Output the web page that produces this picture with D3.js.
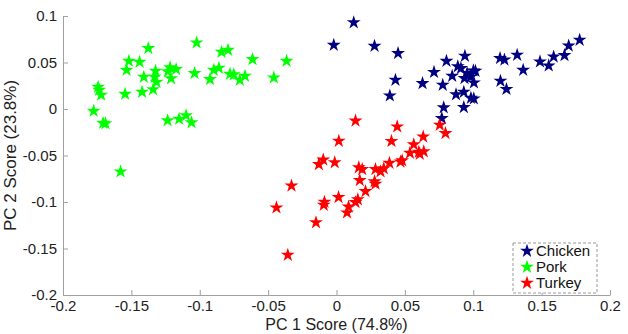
<!DOCTYPE html>
<html>
<head>
<meta charset="utf-8">
<script src="https://cdn.jsdelivr.net/npm/d3@7"></script>
<style>
  body { margin: 0; background: #fff; }
  svg { font-family: 'Liberation Sans', Arial, sans-serif; }
</style>
</head>
<body>
<svg width="628" height="334"></svg>
<script>
// PC scores, [pc1, pc2]
const chicken = [
  [-0.0020, 0.0688], [0.0126, 0.0930], [0.0278, 0.0677], [0.0450, 0.0599], [0.0431, 0.0312],
  [0.0390, 0.0143], [0.0629, 0.0276], [0.0713, 0.0396], [0.0804, 0.0516], [0.0939, 0.0570],
  [0.0887, 0.0457], [0.0910, 0.0438], [0.0846, 0.0355], [0.0777, 0.0258], [0.0874, 0.0156],
  [0.0931, 0.0183], [0.0936, 0.0330], [0.0980, 0.0344], [0.0955, 0.0384], [0.1001, 0.0412],
  [0.1016, 0.0409], [0.1005, 0.0283], [0.0983, 0.0118], [0.1004, 0.0111], [0.0931, 0.0018],
  [0.0784, 0.0016], [0.0770, -0.0100], [0.1196, 0.0545], [0.1228, 0.0530], [0.1321, 0.0581],
  [0.1199, 0.0301], [0.1243, 0.0213], [0.1365, 0.0419], [0.1488, 0.0509], [0.1552, 0.0466],
  [0.1588, 0.0562], [0.1667, 0.0577], [0.1698, 0.0680], [0.1778, 0.0742]
];
const pork = [
  [-0.1776, -0.0022], [-0.1743, 0.0237], [-0.1736, 0.0204], [-0.1721, 0.0151], [-0.1707, -0.0151],
  [-0.1689, -0.0156], [-0.1579, -0.0674], [-0.1546, 0.0161], [-0.1535, 0.0419], [-0.1518, 0.0516],
  [-0.1440, 0.0505], [-0.1422, 0.0183], [-0.1409, 0.0344], [-0.1376, 0.0653], [-0.1341, 0.0210],
  [-0.1330, 0.0344], [-0.1316, 0.0290], [-0.1323, 0.0409], [-0.1233, 0.0403], [-0.1217, 0.0446],
  [-0.1210, 0.0328], [-0.1173, 0.0427], [-0.1235, -0.0124], [-0.1151, -0.0108], [-0.1100, -0.0070],
  [-0.1060, -0.0145], [-0.1023, 0.0713], [-0.1038, 0.0384], [-0.0925, 0.0319], [-0.0897, 0.0419],
  [-0.0860, 0.0441], [-0.0841, 0.0613], [-0.0793, 0.0634], [-0.0779, 0.0376], [-0.0751, 0.0371],
  [-0.0707, 0.0312], [-0.0669, 0.0355], [-0.0614, 0.0534], [-0.0458, 0.0337], [-0.0365, 0.0516]
];
const turkey = [
  [0.0139, -0.0127], [0.0017, -0.0344], [0.0402, -0.0346], [0.0444, -0.0190], [0.0634, -0.0298],
  [0.0755, -0.0172], [0.0797, -0.0261], [0.0565, -0.0382], [0.0537, -0.0473], [0.0602, -0.0462],
  [0.0638, -0.0457], [0.0609, -0.0484], [0.0480, -0.0554], [0.0468, -0.0567], [0.0387, -0.0581],
  [0.0346, -0.0640], [0.0322, -0.0672], [0.0285, -0.0648], [0.0163, -0.0629], [0.0188, -0.0648],
  [-0.0129, -0.0595], [-0.0097, -0.0546], [-0.0013, -0.0575], [-0.0329, -0.0825], [-0.0439, -0.1061],
  [0.0170, -0.0767], [0.0278, -0.0780], [0.0285, -0.0806], [0.0212, -0.0885], [0.0015, -0.0949],
  [0.0156, -0.0973], [0.0139, -0.1003], [0.0088, -0.1051], [0.0077, -0.1115], [-0.0088, -0.1000],
  [-0.0093, -0.1032], [-0.0150, -0.1220], [-0.0356, -0.1570]
];
const groups = ['Chicken', 'Pork', 'Turkey'];
const colors = ['#000080', '#00ff00', '#ff0000'];
const xTicks = [-0.2, -0.15, -0.1, -0.05, 0, 0.05, 0.1, 0.15, 0.2];
const yTicks = [-0.2, -0.15, -0.1, -0.05, 0, 0.05, 0.1];

const margin = { left: 63, top: 16, right: 18, bottom: 39 };
const inner = { x: 628 - margin.left - margin.right, y: 334 - margin.top - margin.bottom };

const x = d3.scaleLinear().domain([-0.2, 0.2]).range([0, inner.x]);
const y = d3.scaleLinear().domain([-0.2, 0.1]).range([inner.y, 0]);

// plain hyphen minus like matlab
const fmt = function (d) { return String(d); };

const svg = d3.select('svg');
const g = svg.append('g')
  .attr('transform', 'translate(' + margin.left + ',' + margin.top + ')');

// axes, matlab style: ticks inside, no box
const xAxis = g.append('g')
  .attr('transform', 'translate(0,' + inner.y + ')')
  .call(d3.axisBottom(x).tickValues(xTicks).tickSizeInner(-5).tickSizeOuter(0).tickPadding(5).tickFormat(fmt));
const yAxis = g.append('g')
  .call(d3.axisLeft(y).tickValues(yTicks).tickSizeInner(-5).tickSizeOuter(0).tickPadding(6).tickFormat(fmt));

[xAxis, yAxis].forEach(function (a) {
  a.select('.domain').attr('stroke', '#a0a0a0');
  a.selectAll('.tick line').attr('stroke', '#a0a0a0');
  a.selectAll('.tick text').attr('fill', '#222').style('font-size', '15px');
});

// points
const star = d3.symbol().type(d3.symbolStar).size(60);
[chicken, pork, turkey].forEach(function (pts, i) {
  g.append('g')
    .selectAll('path')
    .data(pts)
    .enter()
    .append('path')
    .attr('d', star)
    .attr('transform', function (d) { return 'translate(' + x(d[0]) + ',' + y(d[1]) + ')'; })
    .attr('fill', colors[i]);
});

// axis labels
svg.append('text')
  .attr('text-anchor', 'middle')
  .attr('x', margin.left + x(0))
  .attr('y', 330)
  .attr('fill', '#222')
  .style('font-size', '16px')
  .text('PC 1 Score (74.8%)');

svg.append('text')
  .attr('text-anchor', 'middle')
  .attr('transform', 'rotate(-90)')
  .attr('x', -(margin.top + inner.y / 2))
  .attr('y', 16)
  .attr('fill', '#222')
  .style('font-size', '17px')
  .text('PC 2 Score (23.8%)');

// legend
const legend = svg.append('g').attr('transform', 'translate(513,243)');
legend.append('rect')
  .attr('width', 84)
  .attr('height', 50)
  .attr('fill', '#fff')
  .attr('stroke', '#999')
  .attr('stroke-dasharray', '3,2');
groups.forEach(function (name, i) {
  legend.append('path')
    .attr('d', star)
    .attr('transform', 'translate(14,' + (8 + i * 16) + ')')
    .attr('fill', colors[i]);
  legend.append('text')
    .attr('x', 23)
    .attr('y', 8 + i * 16)
    .attr('dy', '0.35em')
    .attr('fill', '#111')
    .style('font-size', '15px')
    .text(name);
});
</script>
</body>
</html>
